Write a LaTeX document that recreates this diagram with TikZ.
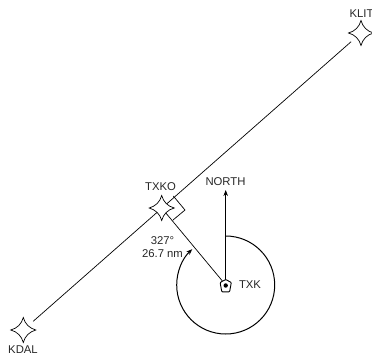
\documentclass[tikz,border=0pt]{standalone}
\usepackage{fontspec}
\setmainfont{Liberation Sans}
\usetikzlibrary{arrows.meta}
\tikzset{
 lbl/.style={inner sep=0pt,font=\fontsize{11.3}{12.7}\selectfont,align=center,text=black!85},
 wpt/.style={circle,minimum size=26pt,inner sep=0pt},
 line/.style={line width=0.7pt,black},
 pics/fourstar/.style={code={
   \draw[line,fill=white,line join=miter]
     (0,12.5) .. controls (1.8,6) and (6,1.8) .. (12.5,0)
     .. controls (6,-1.8) and (1.8,-6) .. (0,-12.5)
     .. controls (-1.8,-6) and (-6,-1.8) .. (-12.5,0)
     .. controls (-6,1.8) and (-1.8,6) .. cycle;
 }}
}
\begin{document}
\begin{tikzpicture}[x=1pt,y=-1pt]
\useasboundingbox (0,0) rectangle (372,356);
\node[wpt] (klit) at (361,33) {};
\node[wpt] (kdal) at (23.3,330) {};
\node[wpt] (txko) at (161.7,208) {};
\node[circle,minimum size=9pt,inner sep=0pt] (txk) at (225.7,285) {};
\coordinate (north) at (225.7,190);
\draw[line] (kdal) -- (klit);
\draw[line] (173.3,196) -- (185,210) -- (173,220);
\draw[line] (txko.center) -- (txk);
\draw[line,-{Stealth[length=6pt,width=4.5pt]}] (txk) -- (north);
\draw[line,line width=1pt,-{Stealth[length=6pt,width=4.5pt]}] (225.7,236) arc[start angle=-90,end angle=227,radius=49];
\pic at (klit) {fourstar};
\pic at (kdal) {fourstar};
\pic at (txko) {fourstar};
\draw[line,line width=0.9pt,fill=white,rounded corners=0.8pt] (225.7,279.5) -- (231.3,282.5) -- (229.6,291.8) -- (221.8,291.8) -- (220.1,282.5) -- cycle;
\fill (225.7,285.5) circle (2.2pt);
\node[lbl] (lklit) at (361.5,14) {KLIT};
\node[lbl] (lkdal) at (23,350) {KDAL};
\node[lbl] (ltxko) at (160.5,187) {TXKO};
\node[lbl] (lnorth) at (225.5,182) {NORTH};
\node[lbl] (ltxk) at (250,284.5) {TXK};
\node[lbl] (lbrg) at (162.5,247) {327°\\26.7 nm};
\end{tikzpicture}
\end{document}
